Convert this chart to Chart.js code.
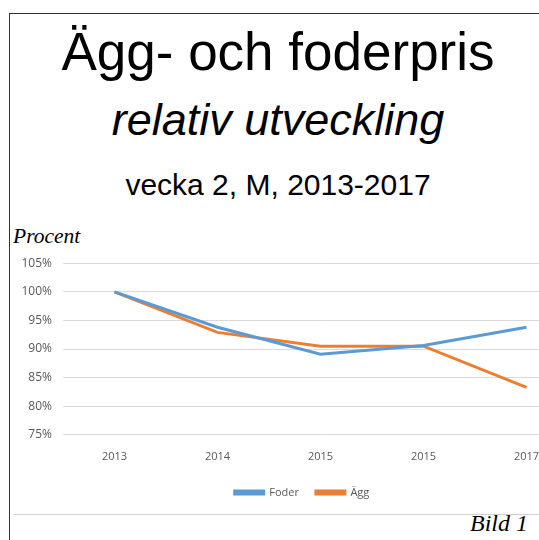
<!DOCTYPE html>
<html>
<head>
<meta charset="utf-8">
<script src="https://cdn.jsdelivr.net/npm/chart.js@4"></script>
<style>
  body { margin: 0; background: #fff; }
  #page { position: relative; width: 539px; height: 540px; overflow: hidden; background: #fff; }
  #frame { position: absolute; left: 9px; top: 13px; width: 600px; height: 600px;
           border-left: 1px solid #333; border-top: 1px solid #333; }
  .t { position: absolute; left: 0; width: 556px; text-align: center; color: #000;
       font-family: "Liberation Sans", Arial, sans-serif; white-space: nowrap; line-height: normal; }
  #t1 { top: 21px; font-size: 53px; }
  #t2 { top: 94px; font-size: 45px; font-style: italic; }
  #t3 { top: 168px; font-size: 30px; }
  #procent { position: absolute; left: 13px; top: 224px; font-family: "Liberation Serif", serif;
             font-style: italic; font-size: 21.5px; }
  #rule { position: absolute; left: 14px; top: 514px; width: 560px; height: 1px; background: #d0d0d0; }
  #bild { position: absolute; left: 470px; top: 510px; font-family: "Liberation Serif", serif;
          font-style: italic; font-size: 24px; }
  #wrap { position: absolute; left: 14px; top: 245px; width: 576px; height: 263px; }
</style>
</head>
<body>
<div id="page">
  <div id="frame"></div>
  <div class="t" id="t1">Ägg- och foderpris</div>
  <div class="t" id="t2">relativ utveckling</div>
  <div class="t" id="t3">vecka 2, M, 2013-2017</div>
  <div id="procent">Procent</div>
  <div id="wrap"><canvas id="chart"></canvas></div>
  <div id="rule"></div>
  <div id="bild">Bild 1</div>
</div>
<script>
const years = ['2013', '2014', '2015', '2015', '2017'];
const foder = [100, 93.8, 89.1, 90.6, 93.8];
const agg = [100, 92.9, 90.5, 90.5, 83.3];
const yMin = 75, yMax = 105, yStep = 5;

const ctx = document.getElementById('chart').getContext('2d');
new Chart(ctx, {
  type: 'line',
  data: {
    labels: years,
    datasets: [
      { label: 'Foder', data: foder, borderColor: '#5b9bd5', backgroundColor: '#5b9bd5',
        borderWidth: 3, pointRadius: 0, tension: 0 },
      { label: 'Ägg', data: agg, borderColor: '#ed7d31', backgroundColor: '#ed7d31',
        borderWidth: 3, pointRadius: 0, tension: 0 }
    ]
  },
  options: {
    responsive: true,
    maintainAspectRatio: false,
    animation: false,
    layout: { padding: 0 },
    plugins: {
      legend: {
        position: 'bottom',
        labels: {
          boxWidth: 29, boxHeight: 3, color: '#595959',
          font: { family: 'Open Sans', size: 11 }, padding: 17
        }
      },
      tooltip: { enabled: false }
    },
    scales: {
      x: {
        offset: true,
        grid: { display: false },
        border: { display: false },
        ticks: { color: '#595959', font: { family: 'Open Sans', size: 11 }, padding: 7 }
      },
      y: {
        min: yMin, max: yMax,
        afterFit: s => { s.width = 49; },
        grid: { color: '#d9d9d9', lineWidth: 1, drawTicks: false },
        border: { display: false },
        ticks: {
          stepSize: yStep, color: '#595959', padding: 11,
          font: { family: 'Open Sans', size: 12 },
          callback: v => v + '%'
        }
      },
      // empty right-hand spacer so the legend centres like the original
      yRight: {
        position: 'right',
        min: yMin, max: yMax,
        afterFit: s => { s.width = 12; },
        grid: { display: false },
        border: { display: false },
        ticks: { display: false }
      }
    }
  }
});
</script>
</body>
</html>
